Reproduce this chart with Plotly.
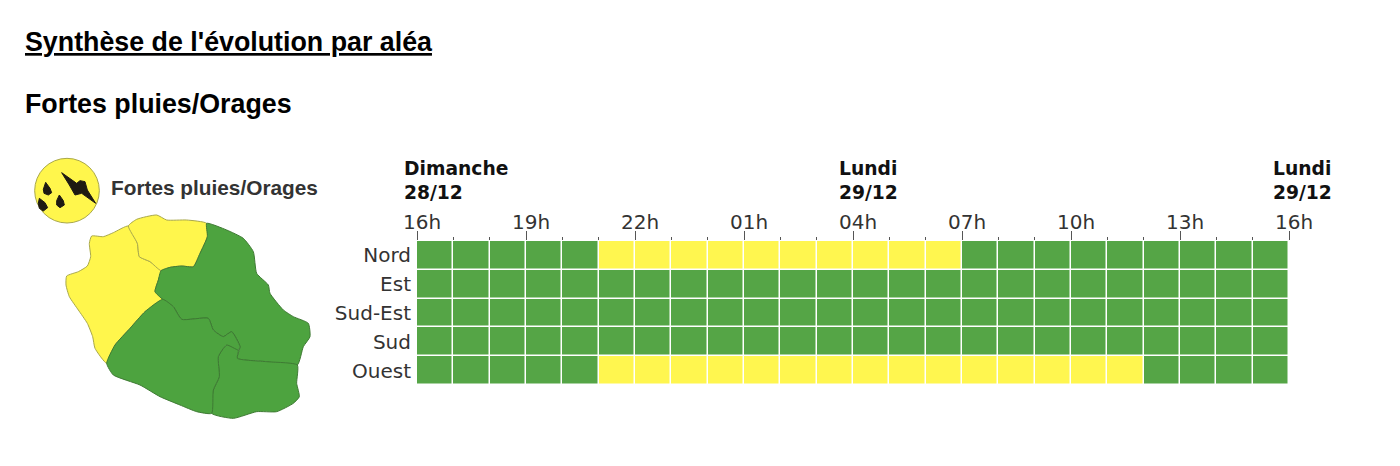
import plotly.graph_objects as go

W, H = 1400, 466
GREEN, YELLOW = "#55A546", "#FFF64F"
MAP_GREEN, MAP_YELLOW = "#4DA33F", "#FFF64C"
BORDER = "#3E7A33"

# Risk grid
zones = ["Nord", "Est", "Sud-Est", "Sud", "Ouest"]
hour_labels = ["16h", "19h", "22h", "01h", "04h", "07h", "10h", "13h", "16h"]
nord = [0]*5 + [1]*10 + [0]*9
est = [0]*24
sud_est = [0]*24
sud = [0]*24
ouest = [0]*5 + [1]*15 + [0]*4
day_labels = ["<b>Dimanche<br>28/12</b>", "<b>Lundi<br>29/12</b>", "<b>Lundi<br>29/12</b>"]

# Map outline points
map_ouest = [(385,258),(340,278),(310,290),(275,288),(268,310),(272,350),(262,378),(235,395),(200,408),(198,435),(208,470),(235,510),(262,550),(278,590),(285,625),(320,670),(345,615),(390,565),(435,515),(488,478),(465,455),(475,420),(483,392),(450,365),(418,350),(412,310)]
map_nord = [(385,258),(410,238),(470,225),(500,240),(560,240),(620,250),(622,290),(600,340),(580,380),(545,378),(510,382),(483,392),(450,365),(418,350),(412,310)]
map_est = [(620,250),(680,270),(730,295),(760,335),(770,400),(805,435),(810,460),(850,510),(880,530),(925,550),(930,590),(910,620),(892,675),(800,665),(712,655),(720,620),(695,575),(670,590),(640,570),(625,535),(545,538),(520,500),(488,478),(465,455),(475,420),(483,392),(510,382),(545,378),(580,380),(600,340),(622,290)]
map_sud_est = [(892,675),(890,730),(898,770),(880,790),(830,815),(770,815),(700,835),(635,820),(640,750),(658,710),(655,650),(680,615),(715,630),(712,655),(800,665)]
map_sud = [(320,670),(345,615),(390,565),(435,515),(488,478),(520,500),(545,538),(625,535),(640,570),(670,590),(695,575),(720,620),(715,630),(680,615),(655,650),(658,710),(640,750),(635,820),(590,815),(540,795),(480,770),(420,735),(340,705)]
icon_bolt = [(185,98),(230,130),(240,122),(255,125),(262,150),(287,190),(245,160),(225,165),(208,135)]
icon_drops = [
    [(137,127),(150,145),(155,158),(145,165),(132,160),(130,148)],
    [(118,175),(135,188),(143,203),(130,213),(118,205),(115,190)],
    [(178,165),(190,182),(193,195),(180,203),(170,195),(170,182)],
]

fig = go.Figure()
fig.add_trace(go.Heatmap(
    z=[nord, est, sud_est, sud, ouest],
    x=[i + 0.5 for i in range(24)], y=zones,
    colorscale=[[0, GREEN], [1, YELLOW]], zmin=0, zmax=1, showscale=False,
    xgap=1.5, ygap=1.5, hoverinfo="skip", xaxis="x", yaxis="y",
))

regions = [(map_ouest, MAP_YELLOW), (map_nord, MAP_YELLOW), (map_est, MAP_GREEN),
           (map_sud_est, MAP_GREEN), (map_sud, MAP_GREEN)]
for pts, col in regions:
    xs = [p[0] for p in pts] + [pts[0][0]]
    ys = [p[1] for p in pts] + [pts[0][1]]
    fig.add_trace(go.Scatter(x=xs, y=ys, mode="lines", fill="toself", fillcolor=col,
                             line=dict(color=BORDER if col == MAP_GREEN else "#A9A84A", width=1, shape="spline", smoothing=0.5),
                             hoverinfo="skip", xaxis="x2", yaxis="y2"))
for pts in [icon_bolt] + icon_drops:
    xs = [p[0] for p in pts] + [pts[0][0]]
    ys = [p[1] for p in pts] + [pts[0][1]]
    fig.add_trace(go.Scatter(x=xs, y=ys, mode="lines", fill="toself", fillcolor="#1E1A12",
                             line=dict(color="#1E1A12", width=1), hoverinfo="skip",
                             xaxis="x2", yaxis="y2"))

annots = []
def txt(x, y, s, size, font="Liberation Sans", color="#000000", xref="paper", xshift=-2):
    annots.append(dict(x=x, y=1 - y / H, xref=xref, yref="paper", text=s, showarrow=False,
                       xanchor="left", yanchor="middle", align="left", xshift=xshift,
                       font=dict(family=font, size=size, color=color)))

txt(25 / W, 42, "<b><u>Synthèse de l'évolution par aléa</u></b>", 26.8)
txt(25 / W, 104, "<b>Fortes pluies/Orages</b>", 26.8)
txt(111 / W, 188, "<b>Fortes pluies/Orages</b>", 20.8, color="#333333")
for pos, lab, shift in zip([0, 12, 24], day_labels, [-15, -16, -18]):
    txt(pos, 181, lab, 18.7, font="DejaVu Sans", color="#111111", xref="x", xshift=shift)

fig.update_layout(
    width=W, height=H, margin=dict(l=0, r=0, t=0, b=0),
    paper_bgcolor="white", plot_bgcolor="white", showlegend=False,
    annotations=annots,
    shapes=[dict(type="circle", xref="x2", yref="y2", x0=104, x1=298, y0=55, y1=249,
                 fillcolor=MAP_YELLOW, line=dict(color="#A9A84A", width=1), layer="below")],
    xaxis=dict(domain=[417 / W, 1289 / W], range=[0, 24], side="top", anchor="y", automargin=False,
               tickmode="array", tickvals=list(range(0, 25, 3)), ticktext=hour_labels,
               ticks="outside", ticklen=9, tickwidth=1, tickcolor="#555555",
               tickfont=dict(family="DejaVu Sans", size=20, color="#333333"),
               ticklabelshift=5, ticklabelstandoff=-6,
               minor=dict(tickvals=list(range(25)), ticks="outside", ticklen=3, tickwidth=1, tickcolor="#555555"),
               showgrid=False, zeroline=False, showline=False),
    yaxis=dict(domain=[1 - 385 / H, 1 - 241 / H], autorange="reversed", anchor="x", automargin=False,
               tickfont=dict(family="DejaVu Sans", size=20, color="#333333"),
               ticks="", ticklabelstandoff=5, showgrid=False, zeroline=False, showline=False),
    xaxis2=dict(domain=[0, 340 / W], range=[0, 1020], anchor="y2", visible=False, fixedrange=True, automargin=False),
    yaxis2=dict(domain=[1 - 430 / H, 1 - 140 / H], range=[870, 0], anchor="x2", visible=False, fixedrange=True, automargin=False),
)

fig.write_html("out.html", config={"displayModeBar": False},
               post_script="document.body.style.margin='0';")
